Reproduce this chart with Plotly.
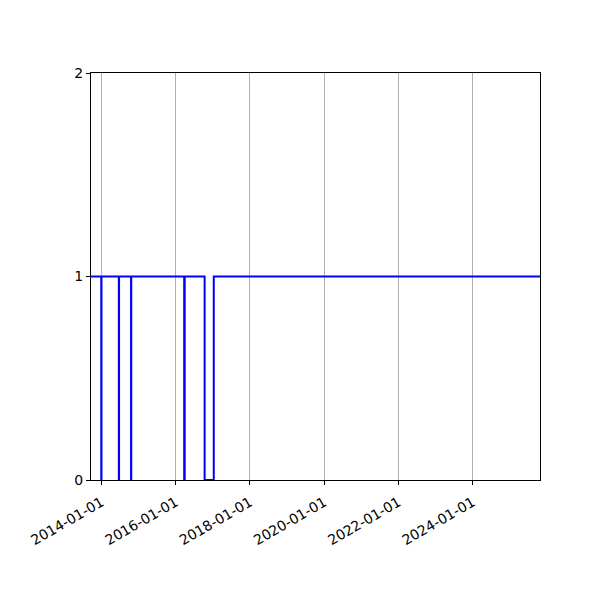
import plotly.graph_objects as go

# change points of the step series (value holds until the next date)
dates = [
    "2013-09-20", "2013-12-30", "2014-01-01", "2014-06-21", "2014-06-23",
    "2014-10-19", "2014-10-21", "2016-03-25", "2016-03-30", "2016-10-12",
    "2017-01-10", "2025-10-25",
]
values = [1, 0, 1, 0, 1, 0, 1, 0, 1, 0, 1, 1]

tick_dates = ["2014-01-01", "2016-01-01", "2018-01-01", "2020-01-01", "2022-01-01", "2024-01-01"]
y_ticks = [0, 1, 2]

fig = go.Figure()
fig.add_trace(
    go.Scatter(
        x=dates,
        y=values,
        mode="lines",
        line=dict(color="blue", width=2, shape="hv"),
        showlegend=False,
    )
)

axis_common = dict(
    showline=True,
    linecolor="black",
    linewidth=1,
    mirror=True,
    ticks="outside",
    ticklen=4,
    tickcolor="black",
    zeroline=False,
    tickfont=dict(family="DejaVu Sans", size=14, color="black"),
)

fig.update_xaxes(
    type="date",
    range=["2013-09-20", "2025-10-25"],
    tickvals=tick_dates,
    ticktext=tick_dates,
    tickangle=-30,
    ticklabelstandoff=4,
    showgrid=True,
    gridcolor="#b0b0b0",
    gridwidth=1,
    **axis_common,
)
fig.update_yaxes(
    range=[0, 2],
    tickvals=y_ticks,
    showgrid=False,
    **axis_common,
)

# page body adds an 8px offset, so margins are shifted to compensate
fig.update_layout(
    width=600,
    height=600,
    margin=dict(l=83, r=68, t=65, b=128, autoexpand=False),
    plot_bgcolor="white",
    paper_bgcolor="white",
)

fig.write_html("out.html")
